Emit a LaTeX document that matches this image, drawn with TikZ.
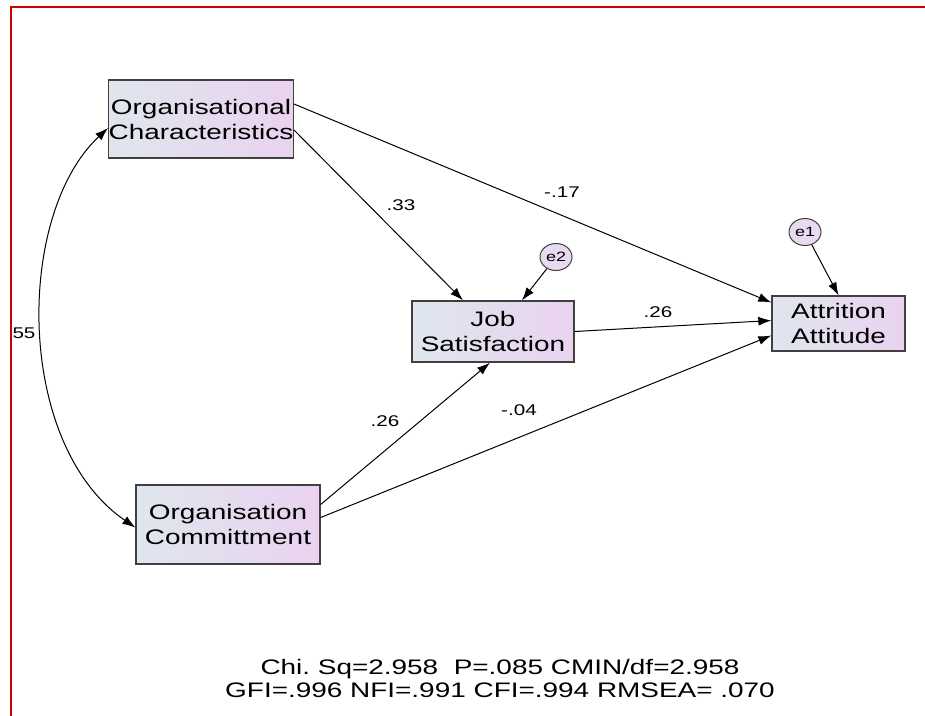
\documentclass[tikz,border=0pt]{standalone}
\usepackage{fontspec}
\setmainfont{Liberation Sans}[FakeStretch=1.33]
\usetikzlibrary{arrows.meta,shapes.geometric}
\definecolor{boxL}{HTML}{DFE6EE}
\definecolor{boxR}{HTML}{EAD2EF}
\definecolor{errF}{HTML}{E8DAF0}
\definecolor{frameR}{HTML}{CC0000}
\definecolor{edgeG}{HTML}{404040}
\frenchspacing
\begin{document}
\begin{tikzpicture}[x=1pt,y=-1pt,
  var/.style={rectangle, draw=edgeG, line width=1.3pt, left color=boxL, right color=boxR,
    inner sep=0pt, align=center, font=\fontsize{21}{25}\selectfont, text=black},
  err/.style={ellipse, draw=edgeG, line width=1pt, fill=errF, inner sep=0pt,
    minimum width=32pt, minimum height=27pt, font=\fontsize{13.5}{15}\selectfont},
  arr/.style={draw=black, line width=1pt, -{Latex[length=13pt,width=9pt]}},
  dblarr/.style={draw=black, line width=1pt, {Latex[length=13pt,width=9pt]}-{Latex[length=13pt,width=9pt]}},
  coef/.style={font=\fontsize{15.5}{18}\selectfont, inner sep=0pt},
  fitline/.style={font=\fontsize{21}{23}\selectfont, align=center, inner sep=0pt}
]
\useasboundingbox (0,0) rectangle (925,715);
\fill[white] (0,0) rectangle (925,715);
% red frame
\draw[frameR, line width=2pt] (11,716) -- (11,7) -- (926,7);

% variables
\node[var, minimum width=182pt, minimum height=78pt] (OC) at (201,119) {Organisational\\Characteristics};
\node[var, minimum width=162pt, minimum height=61pt] (JS) at (493,331.5) {Job\\Satisfaction};
\node[var, minimum width=133pt, minimum height=55pt] (AA) at (838.5,323.5) {Attrition\\Attitude};
\node[var, minimum width=184pt, minimum height=79pt] (CM) at (228,524.5) {Organisation\\Committment};

% errors
\node[err] (e2) at (556,257) {e2};
\node[err] (e1) at (805,232) {e1};

% paths
\draw[arr] ([yshift=-11pt]OC.east) -- ([xshift=-30pt]JS.north);
\draw[arr] ([yshift=15pt]OC.east) -- ([yshift=21pt]AA.west);
\draw[arr] (JS.east) -- ([yshift=3pt]AA.west);
\draw[arr] ([yshift=7pt]CM.east) -- ([yshift=-12pt]AA.west);
\draw[arr] ([yshift=20pt]CM.east) -- ([xshift=-3pt]JS.south);
\draw[arr] (e2) -- ([xshift=29pt]JS.north);
\draw[arr] (e1) -- (AA.north);
\draw[dblarr] ([yshift=-9pt]OC.west) .. controls (15,215) and (15,445) .. ([yshift=-3pt]CM.west);

% coefficients
\node[coef] (c1) at (401,205) {.33};
\node[coef] (c2) at (562,192) {-.17};
\node[coef] (c3) at (658,312) {.26};
\node[coef] (c4) at (385,421) {.26};
\node[coef] (c5) at (519,410) {-.04};
\node[coef] (c6) at (24,333) {55};

% fit indices
\node[fitline] (fit) at (500,678.5) {Chi. Sq=2.958\ \ P=.085 CMIN/df=2.958\\GFI=.996 NFI=.991 CFI=.994 RMSEA= .070};
\end{tikzpicture}
\end{document}
